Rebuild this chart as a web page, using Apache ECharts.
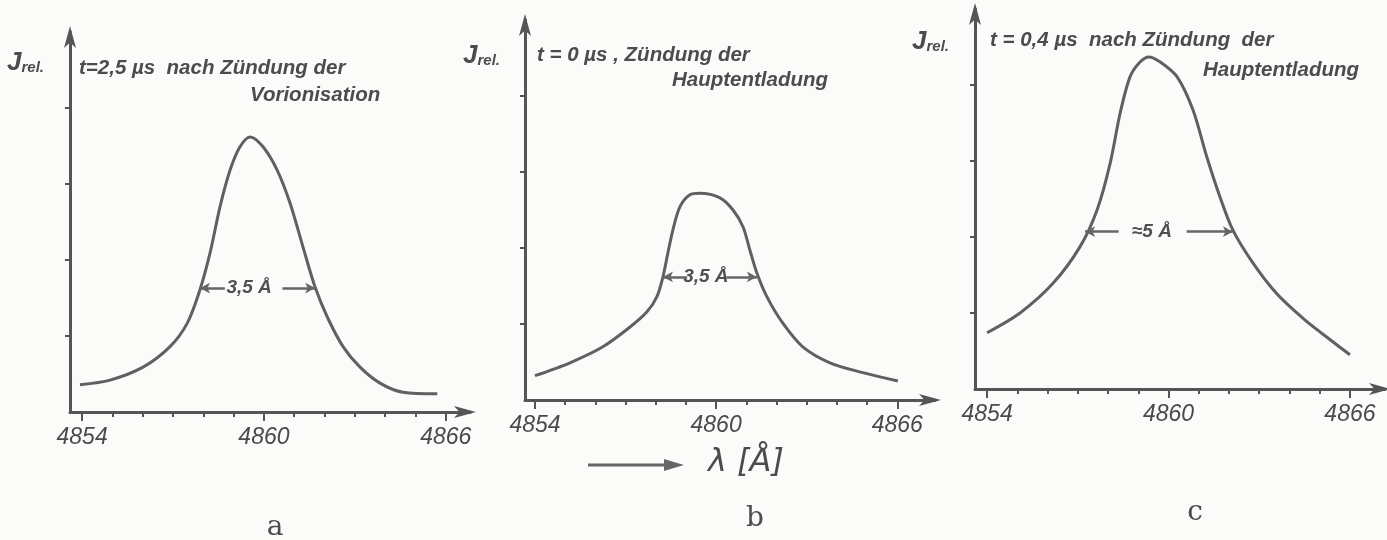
<!DOCTYPE html>
<html><head><meta charset="utf-8">
<script src="https://cdn.jsdelivr.net/npm/echarts@6/dist/echarts.min.js"></script>
<style>html,body{margin:0;padding:0;background:#fbfbf9}#c{width:1387px;height:540px}</style>
</head><body><div id="c"></div>
<script>
// ---- data ----
const xTicks = [4854,4855,4856,4857,4858,4859,4860,4861,4862,4863,4864,4865,4866];
const xLabels = [4854,4860,4866];
const yTicks = [1,2,3,4];

// panel a : t = 2,5 µs
const waveA = [4853.93,4854.92,4856.01,4856.90,4857.47,4857.89,4858.22,4858.55,4858.88,4859.21,4859.54,4859.97,4860.44,4860.86,4861.29,4861.69,4862.09,4862.61,4863.17,4863.83,4864.59,4865.72];
const intA  = [0.36,0.42,0.59,0.86,1.17,1.61,2.09,2.70,3.18,3.49,3.62,3.49,3.18,2.75,2.17,1.64,1.25,0.86,0.59,0.38,0.26,0.24];
// panel b : t = 0 µs
const waveB = [4854.00,4855.16,4856.25,4857.15,4857.71,4858.04,4858.24,4858.40,4858.57,4858.80,4859.13,4859.46,4860.13,4860.56,4860.89,4861.12,4861.35,4861.68,4862.21,4862.87,4863.77,4864.86,4866.02];
const intB  = [0.32,0.49,0.70,0.96,1.16,1.36,1.62,1.93,2.24,2.54,2.70,2.72,2.66,2.50,2.28,1.97,1.67,1.36,1.01,0.70,0.49,0.36,0.25];
// panel c : t = 0,4 µs
const waveC = [4854.00,4855.09,4856.18,4857.07,4857.64,4858.07,4858.40,4858.73,4859.05,4859.35,4859.70,4860.28,4860.81,4861.27,4861.70,4862.13,4862.79,4863.59,4864.45,4865.11,4866.00];
const intC  = [0.74,1.00,1.39,1.87,2.36,2.97,3.63,4.11,4.30,4.37,4.31,4.11,3.67,3.05,2.53,2.09,1.66,1.25,0.93,0.72,0.45];

// half-width markers: [level, left edge, right edge, label centre]
const fwhmA = [1.63, 4857.89, 4861.69, 4859.51];
const fwhmB = [1.62, 4858.24, 4861.35, 4859.66];
const fwhmC = [2.07, 4857.24, 4862.13, 4859.45];
const fwhmText = ['3,5 Å', '3,5 Å', '≈5 Å'];

const titleA = ['t=2,5 µs  nach Zündung der', 'Vorionisation'];
const titleB = ['t = 0 µs , Zündung der', 'Hauptentladung'];
const titleC = ['t = 0,4 µs  nach Zündung  der', 'Hauptentladung'];
const panelLetters = ['a', 'b', 'c'];
const axisName = 'λ [Å]';

// ---- chart ----
const INK = '#555555';
const grids = [
  {left:70, top:32, width:400, height:380, xmin:4853.60, xmax:4866.80, gap:[0.80,1.10]},
  {left:525, top:20, width:410, height:380, xmin:4853.67, xmax:4867.25, gap:[0.62,0.68]},
  {left:975, top:9, width:410, height:380, xmin:4853.60, xmax:4867.16, gap:[1.10,1.15]}
];
const waves = [waveA, waveB, waveC], ints = [intA, intB, intC], fwhms = [fwhmA, fwhmB, fwhmC];

const xAxis = [], yAxis = [], series = [];
grids.forEach((g, i) => {
  xAxis.push({
    gridIndex:i, type:'value', min:g.xmin, max:g.xmax,
    axisLine:{show:true, onZero:false, symbol:['none','arrow'], symbolSize:[9,22], symbolOffset:[0,6], lineStyle:{color:INK, width:3}},
    axisTick:{show:true, customValues:xTicks, length:5, lineStyle:{color:INK, width:2}},
    axisLabel:{show:true, customValues:xLabels, fontStyle:'italic', fontSize:23, color:'#4a4a4a', margin:14, fontFamily:'Liberation Sans', formatter:v=>String(v)},
    splitLine:{show:false}
  });
  xAxis.push({
    gridIndex:i, type:'value', min:g.xmin, max:g.xmax, position:'bottom', offset:0,
    axisLine:{show:false, onZero:false},
    axisTick:{show:true, customValues:xLabels, length:9, lineStyle:{color:INK, width:2}},
    axisLabel:{show:false}, splitLine:{show:false}
  });
  yAxis.push({
    gridIndex:i, type:'value', min:0, max:5,
    axisLine:{show:true, onZero:false, symbol:['none','arrow'], symbolSize:[9,22], symbolOffset:[0,6], lineStyle:{color:INK, width:3}},
    axisTick:{show:true, customValues:yTicks, length:5, lineStyle:{color:INK, width:2}},
    axisLabel:{show:false}, splitLine:{show:false}
  });
  const f = fwhms[i];
  series.push({
    type:'line', xAxisIndex:i*2, yAxisIndex:i, smooth:0.3, symbol:'none',
    lineStyle:{color:'#606060', width:3},
    data: waves[i].map((w, k) => [w, ints[i][k]]),
    markLine:{
      silent:true, symbol:['none','arrow'], symbolSize:[8,10],
      lineStyle:{color:'#666', width:2.5, type:'solid'}, label:{show:false},
      data:[
        [{coord:[f[3]-g.gap[0], f[0]]}, {coord:[f[1], f[0]]}],
        [{coord:[f[3]+g.gap[1], f[0]]}, {coord:[f[2], f[0]]}]
      ]
    },
    markPoint:{
      symbol:'circle', symbolSize:0,
      data:[{coord:[f[3], f[0]]}],
      label:{show:true, position:'inside', formatter:fwhmText[i], fontStyle:'italic', fontWeight:'bold', fontSize:19, color:'#505050', fontFamily:'Liberation Sans'}
    }
  });
});

const tFont = "italic bold 20.5px 'Liberation Sans'";
function txt(x, y, text, font, align) {
  return {type:'text', x:x, y:y, silent:true,
    style:{text:text, font:font, fill:'#4c4c4c', align:align || 'left', verticalAlign:'middle'}};
}
function jrel(x, y) {
  return {type:'text', x:x, y:y, silent:true, style:{
    text:'{J|J}{s|rel.}', fill:'#4c4c4c', align:'left', verticalAlign:'middle',
    rich:{J:{font:"italic bold 26px 'Liberation Sans'", fill:'#4c4c4c'},
          s:{font:"italic bold 15px 'Liberation Sans'", fill:'#4c4c4c', padding:[10,0,0,0]}}
  }};
}
const letterFont = "28px 'DejaVu Serif'";
const graphic = [
  jrel(7, 63), txt(79, 68, titleA[0], tFont), txt(250, 95, titleA[1], tFont),
  jrel(463, 56), txt(537, 55, titleB[0], tFont), txt(672, 80, titleB[1], tFont),
  jrel(912, 42), txt(990, 40, titleC[0], tFont), txt(1203, 70, titleC[1], tFont),
  {type:'line', silent:true, shape:{x1:588, y1:465, x2:668, y2:465}, style:{stroke:'#666', lineWidth:3}},
  {type:'polygon', silent:true, shape:{points:[[664,459],[684,465],[664,471]]}, style:{fill:'#666'}},
  txt(708, 463, axisName, "italic 32px 'DejaVu Sans'"),
  txt(275, 528, panelLetters[0], letterFont, 'center'),
  txt(755, 519, panelLetters[1], letterFont, 'center'),
  txt(1195, 513, panelLetters[2], letterFont, 'center')
];

const chart = echarts.init(document.getElementById('c'), null, {renderer:'canvas'});
chart.setOption({
  animation:false,
  backgroundColor:'#fbfbf9',
  grid: grids.map(g => ({left:g.left, top:g.top, width:g.width, height:g.height})),
  xAxis, yAxis, series, graphic
});
</script></body></html>
